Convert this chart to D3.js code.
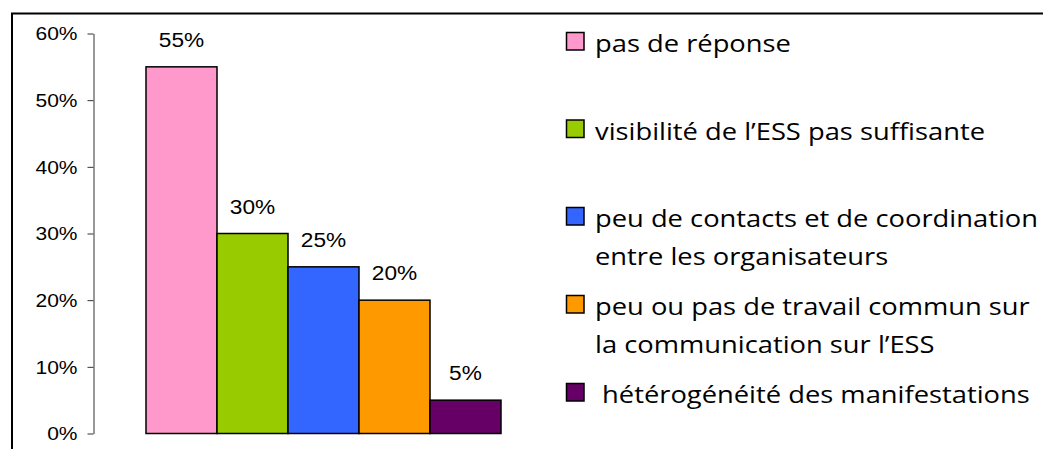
<!DOCTYPE html>
<html>
<head>
<meta charset="utf-8">
<script src="https://cdn.jsdelivr.net/npm/d3@7"></script>
<style>
  html, body { margin: 0; padding: 0; background: #fff; overflow: hidden; }
  svg { display: block; }
</style>
</head>
<body>
<svg id="chart"></svg>
<script>
// data
var categories = ["pas de réponse", "visibilité", "contacts", "travail commun", "hétérogénéité"];
var values = [0.55, 0.30, 0.25, 0.20, 0.05];
var colors = ["#ff99cc", "#99cc00", "#3366ff", "#ff9900", "#660066"];
var legendLabels = [
  ["pas de réponse"],
  ["visibilité de l\u2019ESS pas suffisante"],
  ["peu de contacts et de coordination", "entre les organisateurs"],
  ["peu ou pas de travail commun sur", "la communication sur l\u2019ESS"],
  [" hétérogénéité des manifestations"]
];
var yTicks = [0, 0.1, 0.2, 0.3, 0.4, 0.5, 0.6];

var width = 1043, height = 449;

var svg = d3.select("#chart")
  .attr("width", width)
  .attr("height", height);

// outer frame, runs off the right and bottom edges
svg.append("rect")
  .attr("x", 12)
  .attr("y", 13.5)
  .attr("width", 1100)
  .attr("height", 500)
  .attr("fill", "none")
  .attr("stroke", "#000")
  .attr("stroke-width", 2);

var y = d3.scaleLinear()
  .domain([0, 0.6])
  .range([433.5, 33.5]);

var x = d3.scaleBand()
  .domain(categories)
  .range([146, 501])
  .padding(0);

// y axis
var yAxis = svg.append("g")
  .attr("transform", "translate(93.5,0)")
  .call(d3.axisLeft(y)
    .tickValues(yTicks)
    .tickFormat(d3.format(".0%"))
    .tickSize(6)
    .tickSizeOuter(0)
    .tickPadding(10));

yAxis.select(".domain").attr("stroke", "#333");
yAxis.selectAll(".tick line").attr("stroke", "#333");
yAxis.selectAll(".tick text")
  .attr("fill", "#000")
  .style("font-family", "'Liberation Sans', Arial, sans-serif")
  .style("font-size", "17.5px")
  .attr("dy", "0.36em")
  .each(function () {
    // stretch around the right edge of the label
    var t = d3.select(this);
    var xx = +t.attr("x");
    t.attr("transform", "translate(" + xx + ",0) scale(1.2,1) translate(" + (-xx) + ",0)");
  });

// bars
svg.append("g")
  .selectAll("rect")
  .data(values)
  .join("rect")
  .attr("x", (d, i) => x(categories[i]))
  .attr("y", d => y(d))
  .attr("width", x.bandwidth())
  .attr("height", d => y(0) - y(d))
  .attr("fill", (d, i) => colors[i])
  .attr("stroke", "#000")
  .attr("stroke-width", 1.5);

// value labels
svg.append("g")
  .selectAll("text")
  .data(values)
  .join("text")
  .attr("transform", (d, i) =>
    "translate(" + (x(categories[i]) + x.bandwidth() / 2) + "," + (y(d) - 20) + ") scale(1.08,1)")
  .attr("text-anchor", "middle")
  .style("font-family", "'Liberation Sans', Arial, sans-serif")
  .style("font-size", "21px")
  .attr("fill", "#000")
  .text(d => d3.format(".0%")(d));

// legend
var legend = svg.append("g");
var entryY = [52, 139.5, 227, 315, 403];
var legendTexts = [];

legendLabels.forEach(function (lines, i) {
  var g = legend.append("g").attr("transform", "translate(0," + entryY[i] + ")");
  g.append("rect")
    .attr("x", 566.5)
    .attr("y", -19.5)
    .attr("width", 17.5)
    .attr("height", 17.5)
    .attr("fill", colors[i])
    .attr("stroke", "#000")
    .attr("stroke-width", 1.5);
  var t = g.append("text")
    .attr("transform", "translate(595,0)")
    .style("font-family", "'Open Sans', sans-serif")
    .style("font-size", "23px")
    .style("white-space", "pre")
    .style("font-variant-ligatures", "none")
    .attr("fill", "#000");
  lines.forEach(function (line, j) {
    t.append("tspan")
      .attr("x", 0)
      .attr("y", j * 38)
      .text(line);
  });
  legendTexts.push(t);
});

// fit the widest legend line inside the frame
var widest = d3.max(legendTexts, function (t) {
  return d3.max(t.selectAll("tspan").nodes(), function (n) { return n.getComputedTextLength(); });
});
var sx = 443 / widest;
legendTexts.forEach(function (t) {
  t.attr("transform", "translate(595,0) scale(" + sx + ",1)");
});
</script>
</body>
</html>
